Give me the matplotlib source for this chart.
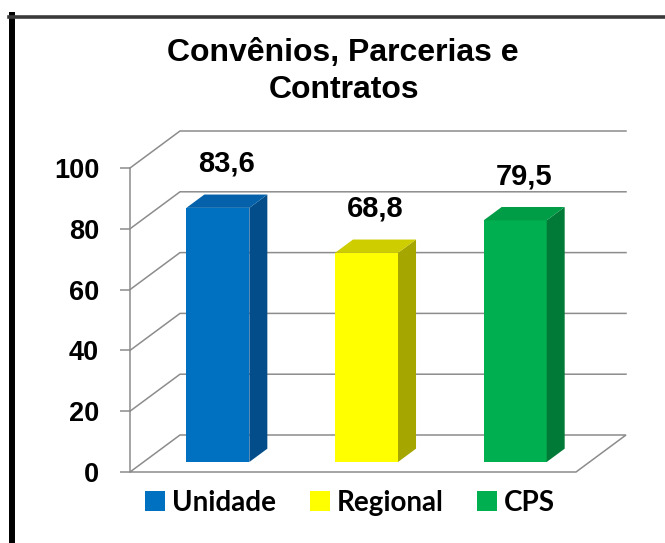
import matplotlib
matplotlib.use('Agg')
import matplotlib.pyplot as plt
from matplotlib.patches import Polygon, Patch
from matplotlib.lines import Line2D

# ---- data ----
categories = ['Unidade', 'Regional', 'CPS']
values = [83.6, 68.8, 79.5]
value_labels = ['83,6', '68,8', '79,5']
yticks = [0, 20, 40, 60, 80, 100]
title_lines = ['Convênios, Parcerias e', 'Contratos']

# ---- styles ----
front_colors = ['#0070C0', '#FFFF00', '#00B050']
top_colors = ['#0562AA', '#CDCD00', '#009C46']
side_colors = ['#034E8A', '#A6A600', '#007A36']
grid_color = '#8C8C8C'
plt.rcParams['font.family'] = ['Liberation Sans', 'DejaVu Sans']

W, H = 665, 543
fig = plt.figure(figsize=(W / 100, H / 100), dpi=100)
fig.patch.set_facecolor('white')

# pixel geometry of the pseudo-3D plot box
px_left, px_right_front, px_bottom, px_top100 = 130, 576, 472, 168
DXpx, DYpx = 50, 37
ncat = len(categories)
ux = (px_right_front - px_left) / ncat
uy = (px_bottom - px_top100) / 100.0
DX = DXpx / ux
DY = DYpx / uy

ax = fig.add_axes([px_left / W, (H - px_bottom) / H,
                   (px_right_front + DXpx - px_left) / W,
                   (px_bottom - (px_top100 - DYpx)) / H])
ax.set_xlim(0, ncat + DX)
ax.set_ylim(0, 100 + DY)
ax.set_facecolor('none')

# back wall gridlines with left-side diagonals
for v in yticks[1:]:
    ax.plot([0, DX, ncat + DX], [v, v + DY, v + DY], color=grid_color,
            lw=1.1, clip_on=False, zorder=1, solid_joinstyle='miter')
# floor
floor = Polygon([(0, 0), (ncat, 0), (ncat + DX, DY), (DX, DY)], closed=True,
                facecolor='white', edgecolor=grid_color, lw=1.1, clip_on=False, zorder=1)
ax.add_patch(floor)

# axis
for s in ['top', 'right', 'bottom']:
    ax.spines[s].set_visible(False)
ax.spines['left'].set_bounds(0, 100)
ax.spines['left'].set_color(grid_color)
ax.spines['left'].set_linewidth(1.1)
ax.spines['left'].set_zorder(2)
ax.set_xticks([])
ax.set_yticks(yticks)
ax.set_yticklabels([str(t) for t in yticks])
ax.tick_params(axis='y', length=7.2, width=1.1, color=grid_color, pad=15,
               labelsize=19.5)
for lab in ax.get_yticklabels():
    lab.set_fontweight('bold')

# bars (front faces through ax.bar, depth faces projected from the same data)
t0, t1 = 10 / 37, 10 / 37 + 18 / 50
bw = 63 / ux
xc = [i + 0.5 for i in range(ncat)]
ax.bar([x + t0 * DX for x in xc], values, width=bw, bottom=t0 * DY,
       color=front_colors, zorder=3, linewidth=0)
for x, v, tc, sc, lbl in zip(xc, values, top_colors, side_colors, value_labels):
    xl, xr = x - bw / 2, x + bw / 2
    side = Polygon([(xr + t0 * DX, t0 * DY), (xr + t1 * DX, t1 * DY),
                    (xr + t1 * DX, v + t1 * DY), (xr + t0 * DX, v + t0 * DY)],
                   closed=True, facecolor=sc, edgecolor='none', zorder=3)
    top = Polygon([(xl + t0 * DX, v + t0 * DY), (xr + t0 * DX, v + t0 * DY),
                   (xr + t1 * DX, v + t1 * DY), (xl + t1 * DX, v + t1 * DY)],
                  closed=True, facecolor=tc, edgecolor='none', zorder=3)
    ax.add_patch(side)
    ax.add_patch(top)
    ax.annotate(lbl, (x + (t0 + t1) / 2 * DX, v + t1 * DY), xytext=(0, 22),
                textcoords='offset points', ha='center', va='center',
                fontsize=21, fontweight='bold', annotation_clip=False)

# title
fig.text(343 / W, 1 - 61 / H, title_lines[0], ha='center', va='baseline',
         fontsize=23, fontweight='bold')
fig.text(344 / W, 1 - 98 / H, title_lines[1], ha='center', va='baseline',
         fontsize=23, fontweight='bold')

# legend
handles = [Patch(facecolor=c, edgecolor='none') for c in front_colors]
fig.legend(handles, categories, loc='center', bbox_to_anchor=(350 / W, 1 - 503 / H),
           ncol=3, frameon=False, handlelength=0.72, handleheight=0.72,
           handletextpad=0.25, columnspacing=1.2,
           prop={'family': ['Lato', 'DejaVu Sans'], 'weight': 'bold', 'size': 20})

# outer frame fragments (left and top)
fig.add_artist(Line2D([12 / W, 12 / W], [0, 1 - 15 / H], color='black', lw=4.3))
fig.add_artist(Line2D([9 / W, 1], [1 - 16.5 / H, 1 - 16.5 / H], color='#3A3A3A', lw=2.6))

fig.savefig('out.png', dpi=100)
